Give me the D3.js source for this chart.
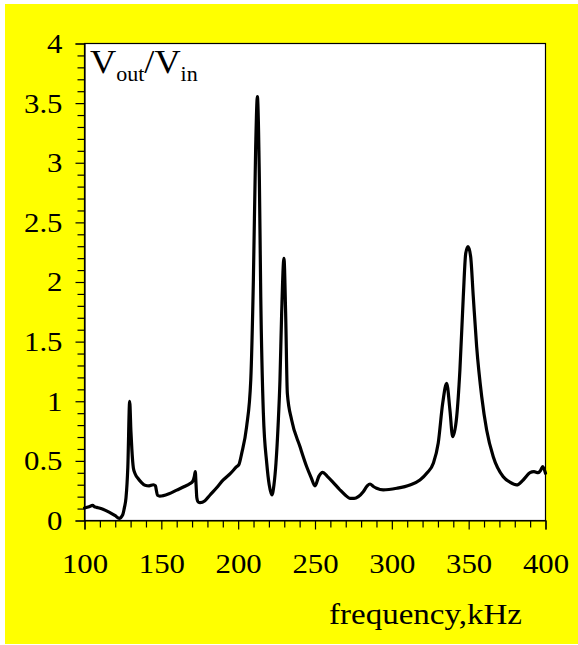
<!DOCTYPE html>
<html>
<head>
<meta charset="utf-8">
<script src="https://cdn.jsdelivr.net/npm/d3@7"></script>
<style>
  html, body { margin: 0; padding: 0; background: #ffffff; }
  svg { display: block; }
  text { font-family: "Liberation Serif", "Times New Roman", serif; fill: #000; }
</style>
</head>
<body>
<svg id="chart" width="578" height="645"></svg>
<script>
// Frequency response of the transformer: output/input voltage ratio vs frequency
const frequency = [
  100, 103, 105.3, 106.5, 108, 112, 116, 120, 122.6, 124.8,
  126, 127, 128.2, 129.4, 130.2, 130.8, 131.8, 133, 135, 137,
  139.4, 142, 144.8, 146.2, 146.8, 147.5, 149, 155, 160, 165,
  168.7, 170.5, 171.5, 172.1, 172.6, 173.1, 174, 175.2, 178.4, 181.7,
  186, 190.3, 195, 199, 200.5, 202.3, 205.5, 208.2, 209.9, 211.4,
  212.5, 213.8, 214.7, 216.4, 218.6, 220.2, 222, 223.3, 224.6, 226,
  227.2, 228.3, 229.8, 230.9, 232, 234.8, 240.2, 244.6, 247.5, 250,
  252.5, 255, 258, 261.9, 266, 270, 272.8, 275.5, 278.2, 281.4,
  284, 285.8, 288, 290.1, 294.4, 303.2, 311.8, 318.3, 323, 327,
  330.2, 333.1, 335.7, 337.8, 339.6, 342.2, 344.3, 346.5, 348.1, 349.6,
  351.3, 353, 355.2, 358.5, 361.7, 366, 372.5, 377, 381.2, 385.5,
  389.9, 392.5, 395.3, 396.8, 398.2, 400
];
const ratio = [
  0.105, 0.115, 0.127, 0.115, 0.11, 0.095, 0.07, 0.04, 0.018, 0.046,
  0.11, 0.19, 0.45, 1.0, 0.75, 0.6, 0.44, 0.39, 0.35, 0.32,
  0.295, 0.29, 0.30, 0.29, 0.25, 0.212, 0.205, 0.225, 0.255, 0.285,
  0.31, 0.33, 0.37, 0.41, 0.3, 0.19, 0.155, 0.15, 0.166, 0.214,
  0.275, 0.34, 0.395, 0.451, 0.47, 0.563, 0.787, 1.178, 2.017, 3.135,
  3.554, 2.855, 1.877, 0.899, 0.48, 0.3, 0.214, 0.3, 0.48, 0.8,
  1.178, 1.737, 2.199, 1.737, 1.067, 0.843, 0.62, 0.451, 0.36, 0.29,
  0.37, 0.404, 0.37, 0.318, 0.26, 0.21, 0.186, 0.185, 0.2, 0.242,
  0.29, 0.306, 0.285, 0.27, 0.256, 0.27, 0.298, 0.34, 0.4, 0.48,
  0.65, 0.983, 1.15, 0.927, 0.703, 0.87, 1.262, 1.877, 2.241, 2.296,
  2.212, 1.877, 1.458, 1.038, 0.759, 0.535, 0.367, 0.32, 0.298, 0.34,
  0.401, 0.41, 0.401, 0.42, 0.451, 0.396
];

const xTickLabels = [100, 150, 200, 250, 300, 350, 400];
const yTickLabels = [0, 0.5, 1, 1.5, 2, 2.5, 3, 3.5, 4];
const xDomain = [100, 400];
const yDomain = [0, 4];
const xLabel = "frequency,kHz";

const svg = d3.select("#chart");
const W = 578, H = 645;
const plot = { left: 84.5, right: 545.5, top: 43.5, bottom: 520.5 };
const stretch = 1.1; // wide serif lettering

// page background
svg.append("rect").attr("x", 0).attr("y", 0).attr("width", W).attr("height", H).attr("fill", "#ffffff");
svg.append("rect").attr("x", 5).attr("y", 4).attr("width", W - 5).attr("height", H - 5).attr("fill", "#ffff00");

const x = d3.scaleLinear().domain(xDomain).range([plot.left, plot.right]);
const y = d3.scaleLinear().domain(yDomain).range([plot.bottom, plot.top]);

// plot frame
svg.append("rect")
  .attr("x", plot.left).attr("y", plot.top)
  .attr("width", plot.right - plot.left).attr("height", plot.bottom - plot.top)
  .attr("fill", "#ffffff").attr("stroke", "#000").attr("stroke-width", 1.2);

// minor ticks
const xMinor = d3.range(xDomain[0], xDomain[1] + 1, 10).filter(v => v % 50 !== 0);
const yMinor = d3.range(0, 41, 1).map(v => v / 10).filter(v => Math.round(v * 10) % 5 !== 0);

svg.append("g")
  .attr("transform", `translate(0,${plot.bottom})`)
  .call(d3.axisBottom(x).tickValues(xMinor).tickSize(7).tickFormat(""))
  .call(g => g.select(".domain").remove())
  .call(g => g.selectAll("line").attr("stroke-width", 1.2));

svg.append("g")
  .attr("transform", `translate(${plot.left},0)`)
  .call(d3.axisLeft(y).tickValues(yMinor).tickSize(7).tickFormat(""))
  .call(g => g.select(".domain").remove())
  .call(g => g.selectAll("line").attr("stroke-width", 1.2));

// major ticks with labels
const xAxis = svg.append("g")
  .attr("transform", `translate(0,${plot.bottom})`)
  .call(d3.axisBottom(x).tickValues(xTickLabels).tickSize(9).tickPadding(24).tickFormat(d3.format("d")));
xAxis.select(".domain").attr("stroke-width", 1.2);
xAxis.selectAll("line").attr("stroke-width", 1.2);
xAxis.selectAll("text")
  .attr("font-family", "Liberation Serif, Times New Roman, serif")
  .attr("font-size", 28).attr("fill", "#000")
  .attr("transform", `scale(${stretch},1)`);

const yAxis = svg.append("g")
  .attr("transform", `translate(${plot.left},0)`)
  .call(d3.axisLeft(y).tickValues(yTickLabels).tickSize(9).tickPadding(11).tickFormat(d => d3.format("")(d)));
yAxis.select(".domain").attr("stroke-width", 1.2);
yAxis.selectAll("line").attr("stroke-width", 1.2);
yAxis.selectAll("text")
  .attr("font-family", "Liberation Serif, Times New Roman, serif")
  .attr("font-size", 28).attr("fill", "#000")
  .attr("transform", `scale(${stretch},1)`);

// response curve
const pts = frequency.map((f, i) => [f, ratio[i]]);
const line = d3.line().x(d => x(d[0])).y(d => y(d[1])).curve(d3.curveMonotoneX);
svg.append("path")
  .datum(pts)
  .attr("d", line)
  .attr("fill", "none")
  .attr("stroke", "#000")
  .attr("stroke-width", 3.2)
  .attr("stroke-linejoin", "round")
  .attr("stroke-linecap", "round");

// quantity label inside the plot: V_out / V_in
const q = svg.append("text")
  .attr("transform", `translate(90,73) scale(${stretch},1)`)
  .attr("font-size", 33);
q.append("tspan").text("V");
q.append("tspan").attr("font-size", 20).attr("dy", 7.5).text("out");
q.append("tspan").attr("dy", -7.5).text("/V");
q.append("tspan").attr("font-size", 20).attr("dy", 7.5).text("in");

// x-axis title
svg.append("text")
  .attr("transform", `translate(522,624) scale(${stretch},1)`)
  .attr("text-anchor", "end")
  .attr("font-size", 30)
  .text(xLabel);
</script>
</body>
</html>
